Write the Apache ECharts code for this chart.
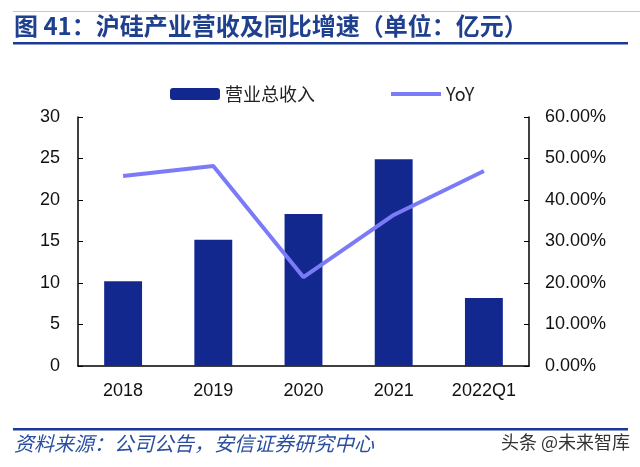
<!DOCTYPE html>
<html><head><meta charset="utf-8">
<script src="https://cdn.jsdelivr.net/npm/echarts@6/dist/echarts.min.js"></script>
<style>html,body{margin:0;padding:0;background:#fff}#c{width:640px;height:467px}</style>
</head><body><div id="c"></div>
<script>
const categories = ['2018','2019','2020','2021','2022Q1'];
const revenue = [10.2, 15.2, 18.3, 24.9, 8.2];
const yoy = [45.8, 48.2, 21.4, 36.4, 47.0];
const leftTicks = [0,5,10,15,20,25,30];
const rightTicks = ['0.00%','10.00%','20.00%','30.00%','40.00%','50.00%','60.00%'];

const chart = echarts.init(document.getElementById('c'));
const fontFam = '"Liberation Sans", Arial, sans-serif';
chart.setOption({
  animation:false,
  graphic:[
    {type:'rect',shape:{x:13,y:11,width:627,height:1},style:{fill:'#b8c8e2'}},
    {type:'text',left:14,top:14,style:{text:'图 41：沪硅产业营收及同比增速（单位：亿元）',fill:'#1f3f8f',font:'bold 24px "Noto Sans CJK SC", sans-serif'}},
    {type:'rect',shape:{x:13,y:42,width:615,height:2.5},style:{fill:'#1a3a96'}},
    {type:'rect',shape:{x:13,y:428,width:615,height:2.5},style:{fill:'#1a3a96'}},
    {type:'text',left:14,top:433,style:{text:'资料来源：公司公告，安信证券研究中心',fill:'#2a4ea0',font:'italic 20px "Noto Sans CJK SC", sans-serif'}},
    {type:'text',right:10,top:433,style:{text:'头条 @未来智库',fill:'#333',font:'18px "Noto Sans CJK SC", sans-serif'}}
  ],
  legend:{
    top:80,left:165,itemGap:76,itemWidth:50,itemHeight:12,
    textStyle:{fontSize:18,color:'#222',fontFamily:'"Noto Sans CJK SC", sans-serif'},
    data:[{name:'营业总收入',icon:'roundRect'},{name:'YoY',icon:'path://M0,0 L50,0 L50,4 L0,4 Z'}]
  },
  grid:{left:78,right:111,top:117,bottom:101},
  xAxis:{type:'category',data:categories,
    axisLine:{lineStyle:{color:'#000',width:1.5}},axisTick:{show:false},
    axisLabel:{fontSize:18,color:'#111',fontFamily:fontFam,margin:16}},
  yAxis:[
    {type:'value',min:0,max:30,interval:5,
      axisLine:{show:true,lineStyle:{color:'#000',width:1.5}},
      axisTick:{show:true,inside:true,length:5,lineStyle:{color:'#000'}},
      splitLine:{show:false},
      axisLabel:{fontSize:18,color:'#111',fontFamily:fontFam,margin:18,
        formatter:v=>String(leftTicks[Math.round(v/5)])}},
    {type:'value',min:0,max:60,interval:10,
      axisLine:{show:true,lineStyle:{color:'#000',width:1.5}},
      axisTick:{show:true,inside:true,length:5,lineStyle:{color:'#000'}},
      splitLine:{show:false},
      axisLabel:{fontSize:18,color:'#111',fontFamily:fontFam,margin:16,
        formatter:v=>rightTicks[Math.round(v/10)]}}
  ],
  series:[
    {name:'营业总收入',type:'bar',data:revenue,barWidth:'42%',
      itemStyle:{color:'#13288f'}},
    {name:'YoY',type:'line',yAxisIndex:1,data:yoy,symbol:'none',
      lineStyle:{color:'#7b7bf7',width:4},itemStyle:{color:'#7b7bf7'}}
  ]
});
</script></body></html>
